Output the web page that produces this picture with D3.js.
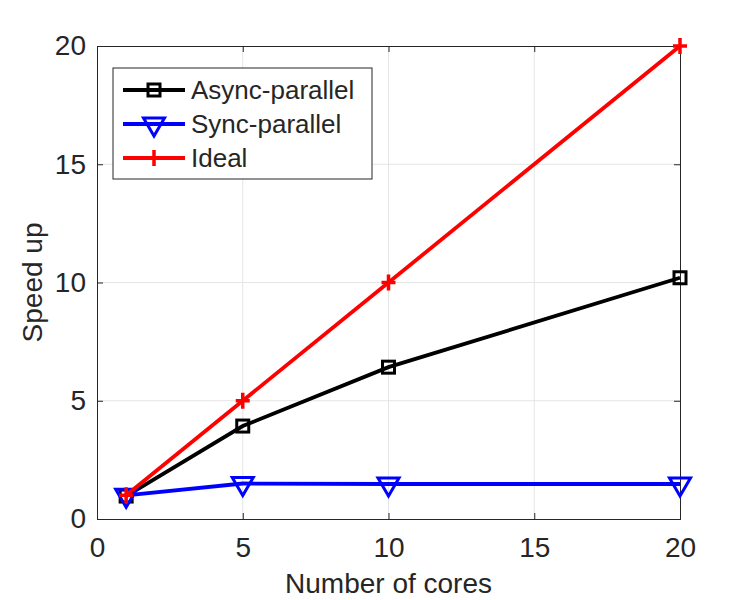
<!DOCTYPE html>
<html lang="en">
<head>
    <meta charset="UTF-8">
    <title>Speed up vs number of cores</title>
    <script src="https://d3js.org/d3.v7.min.js"></script>
    <style>
        body { margin: 0; background: #fff; }
        text { font-family: "Liberation Sans", Arial, sans-serif; fill: #262626; }
    </style>
</head>
<body>
<svg id="chart" width="750" height="600"></svg>
<script>
    // Data
    const cores = [1, 5, 10, 20];
    const asyncSpeedup = [0.97, 3.93, 6.42, 10.2];
    const syncSpeedup = [1.0, 1.5, 1.48, 1.48];
    const idealSpeedup = [1, 5, 10, 20];
    const xTicks = [0, 5, 10, 15, 20];
    const yTicks = [0, 5, 10, 15, 20];

    const series = [
        { name: "Async-parallel", values: asyncSpeedup, color: "#000000", marker: "square" },
        { name: "Sync-parallel", values: syncSpeedup, color: "#0000ff", marker: "triangle" },
        { name: "Ideal", values: idealSpeedup, color: "#ff0000", marker: "plus" }
    ];

    const width = 750, height = 600;
    const margin = { top: 46, right: 70, bottom: 81, left: 97 };

    const svg = d3.select("#chart");

    const x = d3.scaleLinear().domain([0, 20]).range([margin.left, width - margin.right]);
    const y = d3.scaleLinear().domain([0, 20]).range([height - margin.bottom, margin.top]);

    // grid
    svg.append("g").selectAll("line").data(xTicks.slice(1, -1)).join("line")
        .attr("x1", d => x(d)).attr("x2", d => x(d))
        .attr("y1", y(0)).attr("y2", y(20))
        .attr("stroke", "#e5e5e5").attr("stroke-width", 1);
    svg.append("g").selectAll("line").data(yTicks.slice(1, -1)).join("line")
        .attr("y1", d => y(d)).attr("y2", d => y(d))
        .attr("x1", x(0)).attr("x2", x(20))
        .attr("stroke", "#e5e5e5").attr("stroke-width", 1);

    // axes (ticks pointing inward, box around)
    svg.append("g")
        .attr("transform", `translate(0,${y(0)})`)
        .call(d3.axisBottom(x).tickValues(xTicks).tickSize(-6).tickPadding(18));
    svg.append("g")
        .attr("transform", `translate(${x(0)},0)`)
        .call(d3.axisLeft(y).tickValues(yTicks).tickSize(-6).tickPadding(11));
    svg.append("g")
        .attr("transform", `translate(0,${y(20)})`)
        .call(d3.axisTop(x).tickValues(xTicks).tickSize(-6).tickFormat(""));
    svg.append("g")
        .attr("transform", `translate(${x(20)},0)`)
        .call(d3.axisRight(y).tickValues(yTicks).tickSize(-6).tickFormat(""));

    svg.selectAll(".domain, .tick line").attr("stroke", "#262626").attr("stroke-width", 1);
    svg.selectAll(".tick text").attr("font-size", "28px").attr("fill", "#262626");

    // axis labels
    svg.append("text")
        .attr("x", x(10)).attr("y", 593)
        .attr("text-anchor", "middle").attr("font-size", "28px")
        .text("Number of cores");
    svg.append("text")
        .attr("transform", `translate(42,${y(10)}) rotate(-90)`)
        .attr("text-anchor", "middle").attr("font-size", "28px")
        .text("Speed up");

    const line = d3.line().x((d, i) => x(cores[i])).y(d => y(d));

    function drawMarker(g, type, color) {
        if (type === "square") {
            g.append("rect").attr("x", -6).attr("y", -6).attr("width", 12).attr("height", 12)
                .attr("fill", "none").attr("stroke", color).attr("stroke-width", 3);
        } else if (type === "triangle") {
            g.append("path").attr("d", "M-10.5,-6 L10.5,-6 L0,12 Z")
                .attr("fill", "none").attr("stroke", color).attr("stroke-width", 3)
                .attr("stroke-linejoin", "miter");
        } else {
            g.append("path").attr("d", "M-7,0 L7,0 M0,-8 L0,8")
                .attr("stroke", color).attr("stroke-width", 3.5);
        }
    }

    series.forEach(s => {
        svg.append("path").datum(s.values)
            .attr("fill", "none").attr("stroke", s.color).attr("stroke-width", 3.8)
            .attr("d", line);
        s.values.forEach((v, i) => {
            const g = svg.append("g").attr("transform", `translate(${x(cores[i])},${y(v)})`);
            drawMarker(g, s.marker, s.color);
        });
    });

    // legend
    const legend = svg.append("g").attr("transform", "translate(113,68)");
    legend.append("rect").attr("width", 259).attr("height", 111)
        .attr("fill", "#fff").attr("stroke", "#262626").attr("stroke-width", 1);
    series.forEach((s, i) => {
        const ly = 22 + i * 34;
        legend.append("line").attr("x1", 10).attr("x2", 72).attr("y1", ly).attr("y2", ly)
            .attr("stroke", s.color).attr("stroke-width", 3.8);
        drawMarker(legend.append("g").attr("transform", `translate(41,${ly})`), s.marker, s.color);
        legend.append("text").attr("x", 78).attr("y", ly + 9)
            .attr("font-size", "26px").attr("fill", "#000").text(s.name);
    });
</script>
</body>
</html>
